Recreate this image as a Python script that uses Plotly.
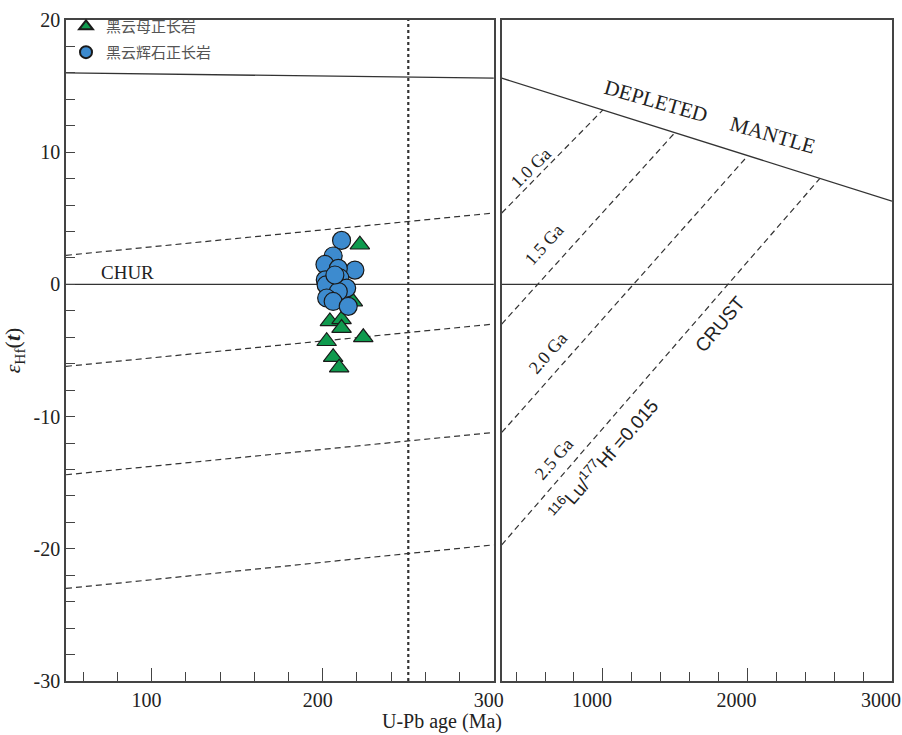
import plotly.graph_objects as go

# ---------------- data ----------------
# 黑云母正长岩 (triangles)
tri_age = [221.7, 217.6, 204.2, 211.0, 211.0, 223.7, 202.3, 206.1, 209.6]
tri_eps = [3.0, -1.3, -2.8, -2.65, -3.3, -4.0, -4.3, -5.5, -6.3]
# 黑云辉石正长岩 (circles)
cir_age = [211.0, 206.1, 201.3, 218.8, 209.1, 201.5, 210.0, 202.0, 214.0, 209.1, 202.3, 206.1, 214.9, 207.1]
cir_eps = [3.33, 2.15, 1.51, 1.08, 1.21, 0.34, 0.49, -0.04, -0.28, -0.54, -1.03, -1.29, -1.66, 0.71]

# depleted mantle line
dm_age_left = [50, 300]
dm_eps_left = [16.0, 15.6]
dm_age_right = [300, 3000]
dm_eps_right = [15.6, 6.3]

# crustal evolution lines (176Lu/177Hf = 0.015)
model_ages = [1000, 1500, 2000, 2500]
model_labels = ["1.0 Ga", "1.5 Ga", "2.0 Ga", "2.5 Ga"]
eps_at_50 = [2.2, -6.2, -14.4, -23.0]
eps_at_300 = [5.4, -3.0, -11.2, -19.7]
eps_at_model = [13.2, 11.5, 9.7, 8.0]

chur_age_left = [50, 300]
chur_age_right = [300, 3000]
chur_eps = [0, 0]

ref_age = 250
y_range = [-30, 20]
y_tick_vals = [-30, -20, -10, 0, 10, 20]
y_tick_text = ["-30", "-20", "-10", "0", "10", "20"]

# ---------------- figure ----------------
LINE = "#333333"
fig = go.Figure()

# left panel lines
fig.add_trace(go.Scatter(x=dm_age_left, y=dm_eps_left, mode="lines",
                         line=dict(color=LINE, width=1.3), showlegend=False, hoverinfo="skip"))
fig.add_trace(go.Scatter(x=chur_age_left, y=chur_eps, mode="lines",
                         line=dict(color=LINE, width=1.3), showlegend=False, hoverinfo="skip"))
for a, b in zip(eps_at_50, eps_at_300):
    fig.add_trace(go.Scatter(x=[50, 300], y=[a, b], mode="lines",
                             line=dict(color=LINE, width=1.2, dash="6px,4px"),
                             showlegend=False, hoverinfo="skip"))
fig.add_trace(go.Scatter(x=[ref_age, ref_age], y=y_range, mode="lines",
                         line=dict(color=LINE, width=2.2, dash="dot"),
                         showlegend=False, hoverinfo="skip"))

# right panel lines
fig.add_trace(go.Scatter(x=dm_age_right, y=dm_eps_right, mode="lines", xaxis="x2", yaxis="y2",
                         line=dict(color=LINE, width=1.3), showlegend=False, hoverinfo="skip"))
fig.add_trace(go.Scatter(x=chur_age_right, y=chur_eps, mode="lines", xaxis="x2", yaxis="y2",
                         line=dict(color=LINE, width=1.3), showlegend=False, hoverinfo="skip"))
for t, top, bot in zip(model_ages, eps_at_model, eps_at_300):
    fig.add_trace(go.Scatter(x=[300, t], y=[bot, top], mode="lines", xaxis="x2", yaxis="y2",
                             line=dict(color=LINE, width=1.2, dash="6px,4px"),
                             showlegend=False, hoverinfo="skip"))

# data points
fig.add_trace(go.Scatter(x=tri_age, y=tri_eps, mode="markers", name="黑云母正长岩",
                         marker=dict(symbol="triangle-up", size=17, color="#0f9a4e",
                                     line=dict(color="#1a1a1a", width=1.2)),
                         legend="legend"))
fig.add_trace(go.Scatter(x=cir_age, y=cir_eps, mode="markers", name="黑云辉石正长岩",
                         marker=dict(symbol="circle", size=18, color="#3d8bcf",
                                     line=dict(color="#1a1a1a", width=1.2)),
                         legend="legend2"))

serif = "Liberation Serif"
sans = "Liberation Sans"
tickfont = dict(family=serif, size=20, color="#222222")

ann = []
ann.append(dict(x=86, y=0.9, xref="x", yref="y", text="CHUR", showarrow=False,
                font=dict(family=serif, size=19, color="#222222")))
# right panel labels
ann.append(dict(x=1364, y=13.9, xref="x2", yref="y2", text="DEPLETED", showarrow=False,
                textangle=16, font=dict(family=serif, size=21, color="#222222")))
ann.append(dict(x=2174, y=11.3, xref="x2", yref="y2", text="MANTLE", showarrow=False,
                textangle=16, font=dict(family=serif, size=21, color="#222222")))
label_pos = [(500, 8.8, -45), (590, 3.0, -48), (620, -5.2, -49), (661, -13.2, -49)]
for (lx, ly, ang), txt in zip(label_pos, model_labels):
    ann.append(dict(x=lx, y=ly, xref="x2", yref="y2", text=txt, showarrow=False,
                    textangle=ang, font=dict(family=serif, size=18, color="#222222")))
ann.append(dict(x=1808, y=-3.0, xref="x2", yref="y2", text="CRUST", showarrow=False,
                textangle=-50, font=dict(family=sans, size=19, color="#222222")))
ann.append(dict(x=1002, y=-13.2, xref="x2", yref="y2",
                text="<sup>116</sup>Lu/<sup>177</sup>Hf =0.015", showarrow=False,
                textangle=-49, font=dict(family=sans, size=19, color="#222222")))
# x title spanning both panels
ann.append(dict(x=0.455, y=-0.062, xref="paper", yref="paper", text="U-Pb age (Ma)",
                showarrow=False, yanchor="middle",
                font=dict(family=serif, size=20, color="#222222")))

axis_common = dict(showline=True, linecolor="#444444", linewidth=1.5, mirror=True,
                   showgrid=False, zeroline=False, automargin=False)

fig.update_layout(
    width=902, height=735,
    margin=dict(l=66, r=10, t=12, b=54),
    paper_bgcolor="white", plot_bgcolor="white",
    xaxis=dict(domain=[0, 0.518], range=[50, 300], tickmode="linear", tick0=0, dtick=100,
               ticks="inside", ticklen=13, tickcolor="#444444", tickwidth=1.3,
               minor=dict(dtick=20, tick0=0, ticks="inside", ticklen=9, tickcolor="#444444", tickwidth=1.3),
               tickfont=tickfont, anchor="y", ticklabeloverflow="allow", ticklabelshift=-5,
               **axis_common),
    yaxis=dict(domain=[0, 1], range=y_range, tickmode="array", tickvals=y_tick_vals,
               ticktext=y_tick_text,
               ticks="inside", ticklen=9, tickcolor="#444444", tickwidth=1.3,
               minor=dict(dtick=2, tick0=0, ticks="inside", ticklen=9, tickcolor="#444444", tickwidth=1.3),
               tickfont=tickfont, anchor="x",
               title=dict(text="<i>ε</i><sub>Hf</sub>(<b><i>t</i></b>)",
                          font=dict(family=serif, size=22, color="#222222"), standoff=10),
               **axis_common),
    xaxis2=dict(domain=[0.5275, 1], range=[300, 3000], tickmode="linear", tick0=0, dtick=1000,
                ticks="inside", ticklen=13, tickcolor="#444444", tickwidth=1.3,
                minor=dict(dtick=200, tick0=0, ticks="inside", ticklen=9, tickcolor="#444444", tickwidth=1.3),
                tickfont=tickfont, anchor="y2", ticklabeloverflow="allow", ticklabelshift=-11,
                **axis_common),
    yaxis2=dict(domain=[0, 1], range=y_range, matches="y", showticklabels=False, ticks="",
                anchor="x2", **axis_common),
    legend=dict(x=0.0, y=0.99, xanchor="left", yanchor="middle", bgcolor="rgba(0,0,0,0)",
                font=dict(family="Noto Sans CJK SC", size=15, color="#555555"),
                itemsizing="constant"),
    legend2=dict(x=0.0, y=0.951, xanchor="left", yanchor="middle", bgcolor="rgba(0,0,0,0)",
                 font=dict(family="Noto Sans CJK SC", size=15, color="#555555"),
                 itemsizing="constant"),
    annotations=ann,
)

fig.write_html("out.html")
